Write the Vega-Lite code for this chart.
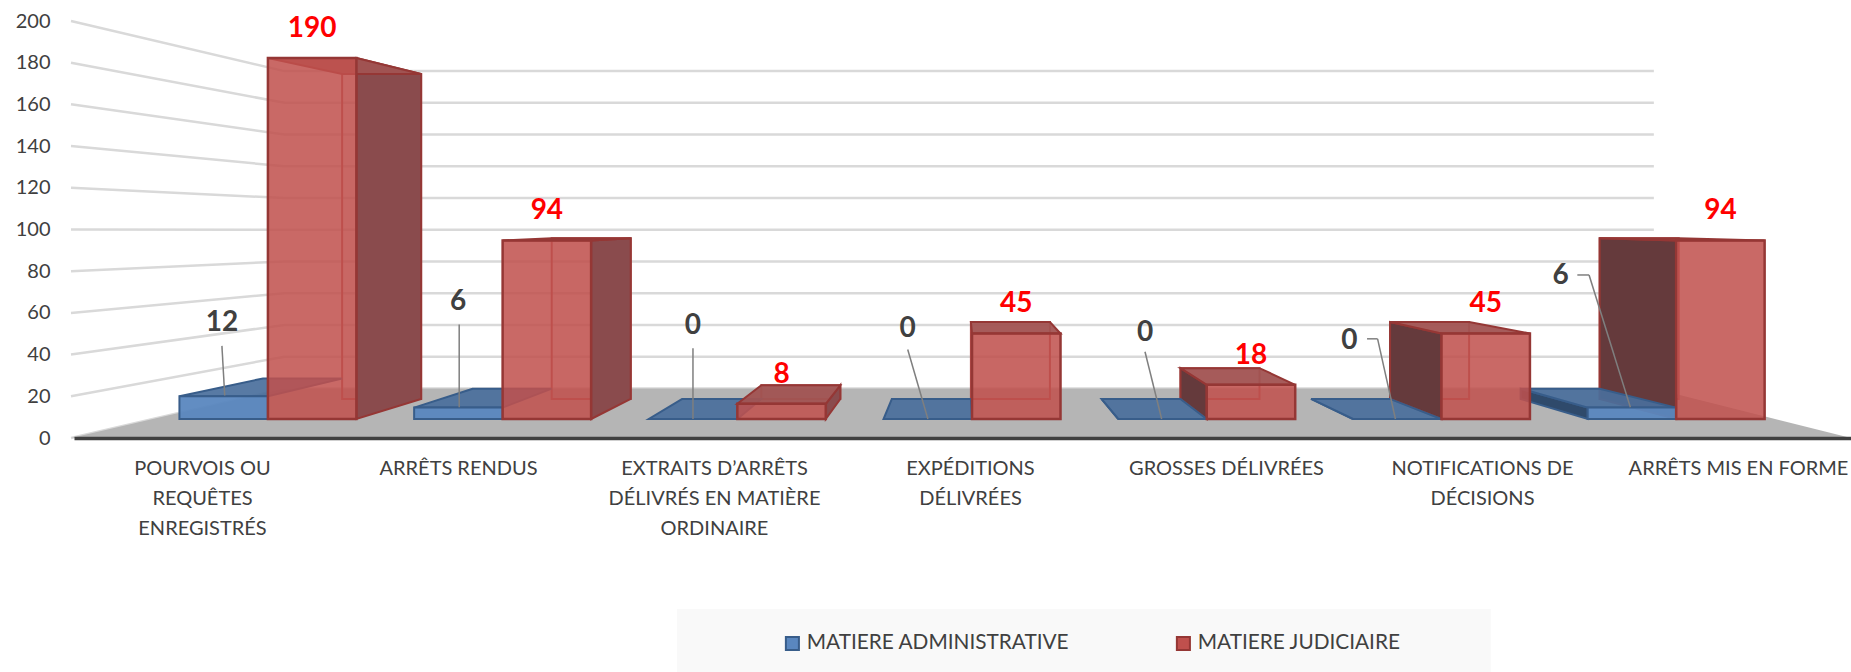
{"$schema":"https://vega.github.io/schema/vega-lite/v6.json","width":1780,"height":417,"autosize":"none","padding":{"left":71,"top":21,"right":0,"bottom":234},"background":"white",
"config":{"view":{"stroke":null},"font":"Lato"},
"datasets":{"rows":[
{"category":"POURVOIS OU|REQUÊTES|ENREGISTRÉS","series":"MATIERE ADMINISTRATIVE","value":12},
{"category":"ARRÊTS RENDUS","series":"MATIERE ADMINISTRATIVE","value":6},
{"category":"EXTRAITS D’ARRÊTS|DÉLIVRÉS  EN MATIÈRE|ORDINAIRE","series":"MATIERE ADMINISTRATIVE","value":0},
{"category":"EXPÉDITIONS|DÉLIVRÉES","series":"MATIERE ADMINISTRATIVE","value":0},
{"category":"GROSSES DÉLIVRÉES","series":"MATIERE ADMINISTRATIVE","value":0},
{"category":"NOTIFICATIONS DE|DÉCISIONS","series":"MATIERE ADMINISTRATIVE","value":0},
{"category":"ARRÊTS MIS EN FORME","series":"MATIERE ADMINISTRATIVE","value":6},
{"category":"POURVOIS OU|REQUÊTES|ENREGISTRÉS","series":"MATIERE JUDICIAIRE","value":190},
{"category":"ARRÊTS RENDUS","series":"MATIERE JUDICIAIRE","value":94},
{"category":"EXTRAITS D’ARRÊTS|DÉLIVRÉS  EN MATIÈRE|ORDINAIRE","series":"MATIERE JUDICIAIRE","value":8},
{"category":"EXPÉDITIONS|DÉLIVRÉES","series":"MATIERE JUDICIAIRE","value":45},
{"category":"GROSSES DÉLIVRÉES","series":"MATIERE JUDICIAIRE","value":18},
{"category":"NOTIFICATIONS DE|DÉCISIONS","series":"MATIERE JUDICIAIRE","value":45},
{"category":"ARRÊTS MIS EN FORME","series":"MATIERE JUDICIAIRE","value":94}],
"ticks":[{"tick":0},{"tick":20},{"tick":40},{"tick":60},{"tick":80},{"tick":100},{"tick":120},{"tick":140},{"tick":160},{"tick":180},{"tick":200}],
"plane":[{"plane":"floor"}]},
"layer":[
{"data":{"name":"rows"},"mark":{"type":"point","opacity":0},"encoding":{
"x":{"field":"category","type":"nominal","sort":null,"title":null,"scale":{"range":[3,1795]},"axis":{"orient":"bottom","labelAngle":0,"ticks":false,"domainColor":"#404040","domainWidth":3.5,"labelColor":"#404040","labelFont":"Lato","labelFontSize":20,"labelLineHeight":30,"labelPadding":20,"labelLimit":400,"labelOverlap":false,"labelExpr":"split(datum.label,'|')","zindex":1,"grid":false}},
"y":{"field":"value","type":"quantitative","title":null,"scale":{"domain":[0,200],"nice":false},"axis":{"orient":"left","values":[0,20,40,60,80,100,120,140,160,180,200],"ticks":false,"domain":false,"grid":false,"labelColor":"#404040","labelFont":"Lato","labelFontSize":20,"labelPadding":21}}}},
{"layer":[
{"data":{"name":"ticks"},"transform":[{"calculate":"[0,1,2]","as":"p"},{"flatten":["p"]},{"calculate":"[-0.839,0.07,5.905][datum.p]","as":"gx"},{"calculate":"datum.p==0?-10+1.0975*datum.tick:16.1+0.835*datum.tick","as":"gy"}],
"mark":{"type":"line","stroke":"#d9d9d9","strokeWidth":2.5},"encoding":{"x":{"field":"gx","type":"quantitative","axis":null,"scale":{"domain":[-0.839,6.745],"nice":false,"zero":false}},"y":{"field":"gy","type":"quantitative","axis":null,"stack":null,"scale":{"domain":[-10,209.47],"nice":false,"zero":false}},"detail":{"field":"tick"},"order":{"field":"p"}}},
{"data":{"name":"plane"},"transform":[{"calculate":"[0,1]","as":"p"},{"flatten":["p"]},{"calculate":"[-0.839,0.07][datum.p]","as":"fx"},{"calculate":"[6.745,5.905][datum.p]","as":"fx2"},{"calculate":"[-10,16.1][datum.p]","as":"fy"}],
"mark":{"type":"area","orient":"horizontal","fill":"#b5b5b5"},"encoding":{"y":{"field":"fy","type":"quantitative","axis":null,"scale":{"domain":[-10,209.47],"nice":false,"zero":false}},"x":{"field":"fx","type":"quantitative","axis":null,"scale":{"domain":[-0.839,6.745],"nice":false,"zero":false}},"x2":{"field":"fx2"}}},
{"data":{"name":"plane"},"mark":{"type":"rect","fill":"#f9f9f9"},"encoding":{"x":{"datum":1.743,"type":"quantitative","axis":null,"scale":{"domain":[-0.839,6.745],"nice":false,"zero":false}},"x2":{"datum":5.21},"y":{"datum":-100,"type":"quantitative","axis":null,"scale":{"domain":[-10,209.47],"nice":false,"zero":false}},"y2":{"datum":-133.2}}},
{"data":{"name":"rows"},"transform":[
{"window":[{"op":"row_number","as":"n"}],"groupby":["series"]},
{"calculate":"datum.series==='MATIERE ADMINISTRATIVE'","as":"isA"},
{"calculate":"datum.n-1+(datum.isA?-0.377:0)","as":"x0"},
{"calculate":"[1,0.9]","as":"s"},{"flatten":["s"]},
{"calculate":"datum.s==1?1:0.893","as":"sh"},
{"calculate":"2.955+datum.sh*(datum.x0-2.955)","as":"xL"},
{"calculate":"2.955+datum.sh*(datum.x0+0.377-2.955)","as":"xR"},
{"calculate":"105.6+datum.s*(datum.value-105.6)","as":"yT"},
{"calculate":"105.6-datum.s*105.6","as":"yB"},
{"calculate":"(datum.xL+datum.xR)/2","as":"xC"},
{"calculate":"[-0.196,0.81,1.811,2.726,3.737,4.608,5.508][datum.n-1]","as":"tx"},
{"calculate":"[50.3,61.5,49,47.2,45.3,41,75.2][datum.n-1]","as":"ty"},
{"calculate":"[-0.196,0.815,1.811,2.726,3.737,4.728,5.629][datum.n-1]","as":"lx1"},
{"calculate":"[38.5,49.7,37.3,36.6,35.4,42.2,75.8][datum.n-1]","as":"ly1"},
{"calculate":"[-0.184,0.815,1.811,2.812,3.808,4.804,5.805][datum.n-1]","as":"lx2"},
{"calculate":"[12.4,6.2,0,0,0,0,6.2][datum.n-1]","as":"ly2"},
{"calculate":"[0,0,0,0,0,4.683,5.579][datum.n-1]","as":"sx"}
],
"layer":[
{"transform":[{"filter":"!datum.isA&&datum.s==0.9"}],"mark":{"type":"rect","fill":"#c0504d","fillOpacity":0.1,"stroke":"#b04a48","strokeWidth":2},"encoding":{"x":{"field":"xL","type":"quantitative","axis":null,"scale":{"domain":[-0.839,6.745],"nice":false,"zero":false}},"x2":{"field":"xR"},"y":{"field":"yT","type":"quantitative","axis":null,"scale":{"domain":[-10,209.47],"nice":false,"zero":false}},"y2":{"field":"yB"}}},
{"transform":[{"filter":"!datum.isA&&datum.x0+0.377<3.134"}],"mark":{"type":"area","orient":"vertical","fill":"#8a4b4d","stroke":"#953735","strokeWidth":2},"encoding":{"x":{"field":"xR","type":"quantitative","axis":null,"scale":{"domain":[-0.839,6.745],"nice":false,"zero":false}},"y":{"field":"yT","type":"quantitative","axis":null,"scale":{"domain":[-10,209.47],"nice":false,"zero":false}},"y2":{"field":"yB"},"detail":{"field":"n"}}},
{"transform":[{"filter":"!datum.isA&&datum.x0>3.134"}],"mark":{"type":"area","orient":"vertical","fill":"#653a3c","stroke":"#953735","strokeWidth":2},"encoding":{"x":{"field":"xL","type":"quantitative","axis":null,"scale":{"domain":[-0.839,6.745],"nice":false,"zero":false}},"y":{"field":"yT","type":"quantitative","axis":null,"scale":{"domain":[-10,209.47],"nice":false,"zero":false}},"y2":{"field":"yB"},"detail":{"field":"n"}}},
{"transform":[{"filter":"datum.isA&&datum.x0>3.134"}],"mark":{"type":"area","orient":"vertical","fill":"#2f4a6b","stroke":"#385d8a","strokeWidth":2},"encoding":{"x":{"field":"xL","type":"quantitative","axis":null,"scale":{"domain":[-0.839,6.745],"nice":false,"zero":false}},"y":{"field":"yT","type":"quantitative","axis":null,"scale":{"domain":[-10,209.47],"nice":false,"zero":false}},"y2":{"field":"yB"},"detail":{"field":"n"}}},
{"transform":[{"filter":"datum.isA"}],"mark":{"type":"area","orient":"horizontal","fill":"#4a6f9c","fillOpacity":0.92,"stroke":"#385d8a","strokeWidth":2},"encoding":{"y":{"field":"yT","type":"quantitative","axis":null,"scale":{"domain":[-10,209.47],"nice":false,"zero":false}},"x":{"field":"xL","type":"quantitative","axis":null,"scale":{"domain":[-0.839,6.745],"nice":false,"zero":false}},"x2":{"field":"xR"},"detail":{"field":"n"}}},
{"transform":[{"filter":"datum.isA&&datum.s==1"}],"mark":{"type":"rect","fillOpacity":0.95,"strokeWidth":2},"encoding":{"x":{"field":"xL","type":"quantitative","axis":null,"scale":{"domain":[-0.839,6.745],"nice":false,"zero":false}},"x2":{"field":"xR"},"y":{"field":"value","type":"quantitative","axis":null,"scale":{"domain":[-10,209.47],"nice":false,"zero":false}},"y2":{"datum":0},
"fill":{"field":"series","type":"nominal","scale":{"domain":["MATIERE ADMINISTRATIVE","MATIERE JUDICIAIRE"],"range":["#5a87bf","#c0504d"]},"legend":{"title":null,"orient":"none","legendX":711,"legendY":612,"direction":"horizontal","columns":2,"symbolType":"square","symbolSize":170,"symbolStrokeWidth":2,"symbolOpacity":1,"labelFont":"Lato","labelFontSize":20.8,"labelColor":"#404040","labelOffset":4,"labelLimit":400,"columnPadding":102}},
"stroke":{"field":"series","type":"nominal","scale":{"domain":["MATIERE ADMINISTRATIVE","MATIERE JUDICIAIRE"],"range":["#385d8a","#953735"]},"legend":{"title":null,"orient":"none","legendX":711,"legendY":612,"direction":"horizontal","columns":2,"symbolType":"square","symbolSize":170,"symbolStrokeWidth":2,"symbolOpacity":1,"labelFont":"Lato","labelFontSize":20.8,"labelColor":"#404040","labelOffset":4,"labelLimit":400,"columnPadding":102}}}},
{"transform":[{"filter":"!datum.isA"}],"mark":{"type":"area","orient":"horizontal","fill":"#a15352","fillOpacity":0.95,"stroke":"#953735","strokeWidth":2},"encoding":{"y":{"field":"yT","type":"quantitative","axis":null,"scale":{"domain":[-10,209.47],"nice":false,"zero":false}},"x":{"field":"xL","type":"quantitative","axis":null,"scale":{"domain":[-0.839,6.745],"nice":false,"zero":false}},"x2":{"field":"xR"},"detail":{"field":"n"}}},
{"transform":[{"filter":"!datum.isA&&datum.s==1"}],"mark":{"type":"rect","fillOpacity":0.86,"strokeWidth":2.5},"encoding":{"x":{"field":"xL","type":"quantitative","axis":null,"scale":{"domain":[-0.839,6.745],"nice":false,"zero":false}},"x2":{"field":"xR"},"y":{"field":"value","type":"quantitative","axis":null,"scale":{"domain":[-10,209.47],"nice":false,"zero":false}},"y2":{"datum":0},
"fill":{"field":"series","type":"nominal","scale":{"domain":["MATIERE ADMINISTRATIVE","MATIERE JUDICIAIRE"],"range":["#5a87bf","#c0504d"]}},
"stroke":{"field":"series","type":"nominal","scale":{"domain":["MATIERE ADMINISTRATIVE","MATIERE JUDICIAIRE"],"range":["#385d8a","#953735"]}}}},
{"transform":[{"filter":"datum.isA&&datum.s==1"}],"mark":{"type":"rule","stroke":"#7f7f7f","strokeWidth":1.5},"encoding":{"x":{"field":"lx1","type":"quantitative","axis":null,"scale":{"domain":[-0.839,6.745],"nice":false,"zero":false}},"x2":{"field":"lx2"},"y":{"field":"ly1","type":"quantitative","axis":null,"scale":{"domain":[-10,209.47],"nice":false,"zero":false}},"y2":{"field":"ly2"}}},
{"transform":[{"filter":"datum.isA&&datum.s==1&&datum.sx>0"}],"mark":{"type":"rule","stroke":"#7f7f7f","strokeWidth":1.5},"encoding":{"x":{"field":"sx","type":"quantitative","axis":null,"scale":{"domain":[-0.839,6.745],"nice":false,"zero":false}},"x2":{"field":"lx1"},"y":{"field":"ly1","type":"quantitative","axis":null,"scale":{"domain":[-10,209.47],"nice":false,"zero":false}}}},
{"transform":[{"filter":"datum.isA&&datum.s==1"}],"mark":{"type":"text","font":"Lato","fontWeight":"bold","fontSize":28,"fill":"#404040"},"encoding":{"x":{"field":"tx","type":"quantitative","axis":null,"scale":{"domain":[-0.839,6.745],"nice":false,"zero":false}},"y":{"field":"ty","type":"quantitative","axis":null,"scale":{"domain":[-10,209.47],"nice":false,"zero":false}},"text":{"field":"value","type":"quantitative"}}},
{"transform":[{"filter":"!datum.isA&&datum.s==1"}],"mark":{"type":"text","font":"Lato","fontWeight":"bold","fontSize":28,"fill":"#ff0000","dy":-29},"encoding":{"x":{"field":"xC","type":"quantitative","axis":null,"scale":{"domain":[-0.839,6.745],"nice":false,"zero":false}},"y":{"field":"value","type":"quantitative","axis":null,"scale":{"domain":[-10,209.47],"nice":false,"zero":false}},"text":{"field":"value","type":"quantitative"}}}
]}
]}
],
"resolve":{"scale":{"x":"independent","y":"independent"},"axis":{"x":"independent","y":"independent"}}}
